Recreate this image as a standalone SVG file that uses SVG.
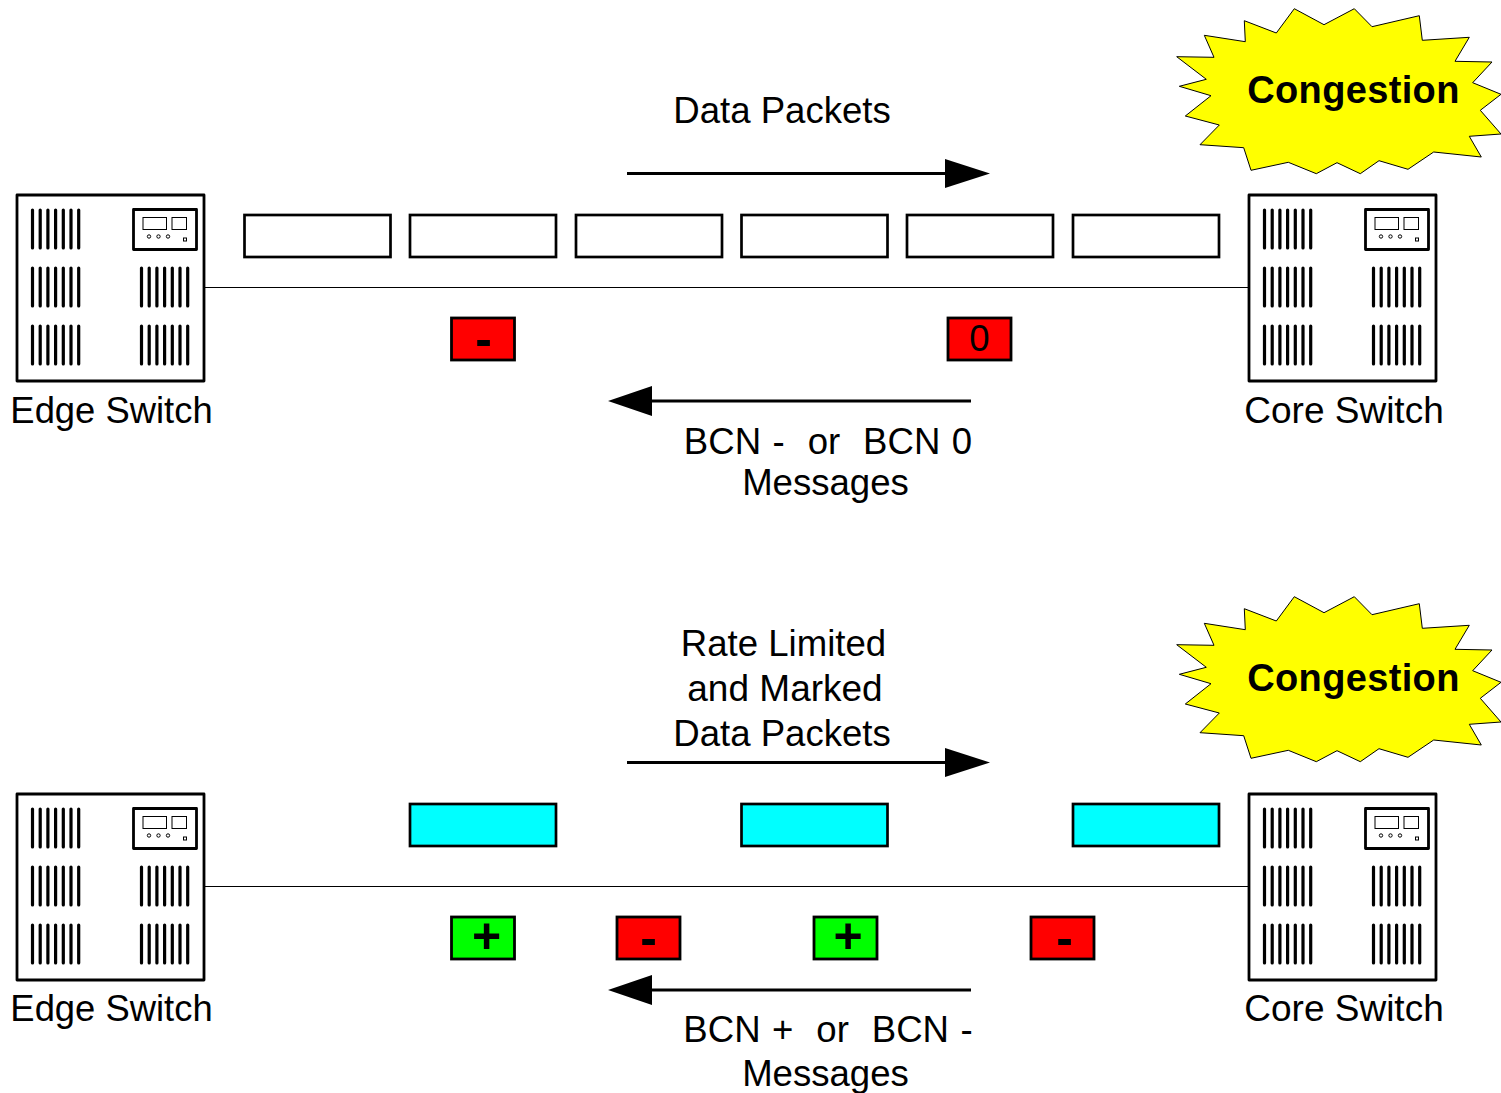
<svg xmlns="http://www.w3.org/2000/svg" xmlns:xlink="http://www.w3.org/1999/xlink" width="1501" height="1093" viewBox="0 0 1501 1093">
<style>
text{font-family:"Liberation Sans",Arial,sans-serif;font-size:36.600px;fill:#000;text-anchor:middle;white-space:pre}
.core{font-size:37px}
.edge{font-size:36.400px}
.bcn{word-spacing:1.300px}
.bold{font-weight:bold;font-size:38px;letter-spacing:.35px}
.sign{font-weight:bold;font-size:50px}
.sw{fill:#fff;stroke:#000;stroke-width:2.800;stroke-linejoin:round}
.v{stroke:#000;stroke-width:3.200;stroke-linecap:round;fill:none}
.thin{fill:#fff;stroke:#000;stroke-width:1}
.pkt{fill:#fff;stroke:#000;stroke-width:2.700}
.cy{fill:#0ff;stroke:#000;stroke-width:2.700}
.red{fill:#f00;stroke:#000;stroke-width:2.800}
.grn{fill:#0f0;stroke:#000;stroke-width:2.800}
.burst{fill:#ff0;stroke:#000;stroke-width:1}
.link{stroke:#000;stroke-width:1.200;fill:none}
.arr{stroke:#000;stroke-width:3;fill:none}
.head{fill:#000}
</style>
<defs>
<path id="vents" class="v" d="M32.500 210V248M40.200 210V248M47.900 210V248M55.600 210V248M63.300 210V248M71 210V248M78.700 210V248"/>
<g id="switch">
<rect class="sw" x="17" y="195" width="187" height="186"/>
<use xlink:href="#vents" href="#vents"/>
<use xlink:href="#vents" href="#vents" y="58"/>
<use xlink:href="#vents" href="#vents" y="116"/>
<use xlink:href="#vents" href="#vents" x="109" y="58"/>
<use xlink:href="#vents" href="#vents" x="109" y="116"/>
<rect class="sw" x="133.500" y="209.500" width="63" height="40"/>
<rect class="thin" x="143" y="217.500" width="23.500" height="12"/>
<rect class="thin" x="172" y="217.500" width="14.500" height="12"/>
<circle class="thin" cx="149" cy="236.500" r="1.700"/>
<circle class="thin" cx="158.500" cy="236.500" r="1.700"/>
<circle class="thin" cx="168" cy="236.500" r="1.700"/>
<rect class="thin" x="183.500" y="238" width="3" height="3"/>
</g>
<polygon id="star" class="burst" points="1294.300,8.700 1324,24.700 1354.300,8.700 1372,26.700 1419.300,15.700 1422.300,40.300 1469.300,37.300 1455,61.300 1492,62 1472.700,82.700 1501,94.300 1480.300,110.300 1501,134 1469.300,136.300 1481.300,157 1433.700,152 1408,169.300 1379,160.700 1360.300,173.700 1337,162.700 1316.300,173.700 1288.300,162.300 1251,170.300 1243.700,147.700 1200,144.700 1219.300,125 1185.300,116 1211,95.700 1179.300,86.300 1206.300,79.300 1176.700,56.700 1214,57.300 1204.300,35.300 1245.300,41.700 1244.300,20.700 1276.300,33"/>
<path id="headR" class="head" d="M990 173.500L945 159V188Z"/>
<path id="headL" class="head" d="M608 401L652 386V416Z"/>
</defs>

<g id="connectors">
<path class="link" d="M204 287.500H1248"/>
<path class="arr" d="M627 173.500H950"/>
<use xlink:href="#headR" href="#headR"/>
<path class="arr" d="M648 401H971"/>
<use xlink:href="#headL" href="#headL"/>
<path class="link" d="M204 886.500H1248"/>
<path class="arr" d="M627 762.500H950"/>
<use xlink:href="#headR" href="#headR" y="589"/>
<path class="arr" d="M648 990H971"/>
<use xlink:href="#headL" href="#headL" y="589"/>
</g>

<g id="congestion-top"><use xlink:href="#star" href="#star"/><text class="bold" x="1353.500" y="103">Congestion</text></g>
<g id="edge-switch-top"><use xlink:href="#switch" href="#switch"/><text class="edge" x="111.500" y="423">Edge Switch</text></g>
<g id="core-switch-top"><use xlink:href="#switch" href="#switch" x="1232"/><text class="core" x="1344" y="423">Core Switch</text></g>
<g id="label-data-packets"><text x="782" y="123">Data Packets</text></g>
<g id="pkt-1"><rect class="pkt" x="244.500" y="215" width="146" height="42"/></g>
<g id="pkt-2"><rect class="pkt" x="410" y="215" width="146" height="42"/></g>
<g id="pkt-3"><rect class="pkt" x="576" y="215" width="146" height="42"/></g>
<g id="pkt-4"><rect class="pkt" x="741.500" y="215" width="146" height="42"/></g>
<g id="pkt-5"><rect class="pkt" x="907" y="215" width="146" height="42"/></g>
<g id="pkt-6"><rect class="pkt" x="1073" y="215" width="146" height="42"/></g>
<g id="msg-minus-top"><rect class="red" x="451.500" y="318" width="63" height="42"/><text class="sign" x="483.500" y="356">-</text></g>
<g id="msg-zero-top"><rect class="red" x="948" y="318" width="63" height="42"/><text x="979.500" y="351">0</text></g>
<g id="label-bcn-top"><text class="bcn" x="828" y="454" xml:space="preserve">BCN -  or  BCN 0</text><text x="825.500" y="495">Messages</text></g>

<g id="congestion-bottom"><use xlink:href="#star" href="#star" y="588"/><text class="bold" x="1353.500" y="691">Congestion</text></g>
<g id="edge-switch-bottom"><use xlink:href="#switch" href="#switch" y="599"/><text class="edge" x="111.500" y="1021">Edge Switch</text></g>
<g id="core-switch-bottom"><use xlink:href="#switch" href="#switch" x="1232" y="599"/><text class="core" x="1344" y="1021">Core Switch</text></g>
<g id="label-rate-limited"><text x="783.500" y="656">Rate Limited</text><text class="core" x="785" y="701">and Marked</text><text x="782" y="746">Data Packets</text></g>
<g id="cy-1"><rect class="cy" x="410" y="804" width="146" height="42"/></g>
<g id="cy-2"><rect class="cy" x="741.500" y="804" width="146" height="42"/></g>
<g id="cy-3"><rect class="cy" x="1073" y="804" width="146" height="42"/></g>
<g id="msg-plus-1"><rect class="grn" x="451.500" y="917" width="63" height="42"/><text class="sign" x="486.500" y="953">+</text></g>
<g id="msg-minus-1"><rect class="red" x="617" y="917" width="63" height="42"/><text class="sign" x="648.500" y="955">-</text></g>
<g id="msg-plus-2"><rect class="grn" x="814" y="917" width="63" height="42"/><text class="sign" x="848" y="953">+</text></g>
<g id="msg-minus-2"><rect class="red" x="1031" y="917" width="63" height="42"/><text class="sign" x="1064.500" y="955">-</text></g>
<g id="label-bcn-bottom"><text class="bcn" x="828" y="1042" xml:space="preserve">BCN +  or  BCN -</text><text x="825.500" y="1086">Messages</text></g>
</svg>
